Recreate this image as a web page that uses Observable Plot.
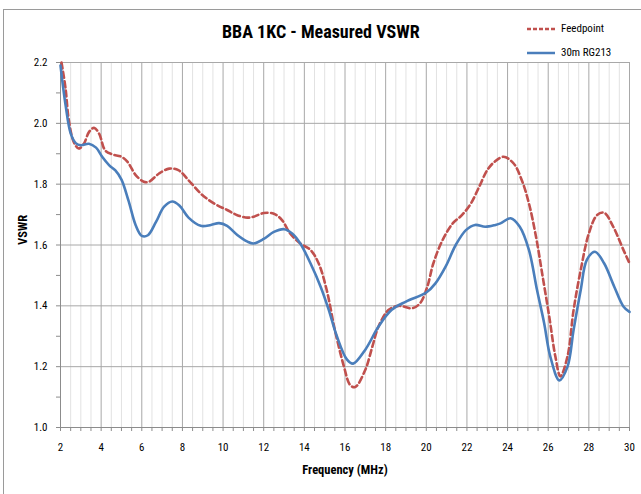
<!DOCTYPE html>
<html><head><meta charset="utf-8">
<script src="https://cdn.jsdelivr.net/npm/d3@7"></script>
<script src="https://cdn.jsdelivr.net/npm/@observablehq/plot@0.6"></script>
<style>
body{margin:0;background:#fff;}
#wrap{position:relative;width:641px;height:494px;overflow:hidden;font-family:"Liberation Sans Narrow","Roboto Condensed","Arial Narrow",sans-serif;}
#border{position:absolute;left:3px;top:9px;width:660px;height:520px;border-left:1px solid #9a9a9a;border-top:1px solid #9a9a9a;}
#title{position:absolute;left:222px;top:21px;font-size:18px;font-weight:bold;color:#000;white-space:nowrap;}
.leg{position:absolute;left:527px;font-size:11px;color:#000;white-space:nowrap;display:flex;align-items:center;}
.leg svg{margin-right:6px;}
#chart{position:absolute;left:0;top:0;}
</style></head>
<body><div id="wrap"><div id="chart"></div><div id="border"></div><div id="title"></div><div id="leg1" class="leg"></div><div id="leg2" class="leg"></div></div>
<script>
const chartTitle = "BBA 1KC - Measured VSWR";
const seriesNames = ["Feedpoint", "30m RG213"];
const seriesColors = ["#C0504D", "#4A7EBB"];
const xLabel = "Frequency (MHz)";
const yLabel = "VSWR";
const xTicks = [2,4,6,8,10,12,14,16,18,20,22,24,26,28,30];
const yTicks = [1.0,1.2,1.4,1.6,1.8,2.0,2.2];

// Feedpoint (dashed red)
const feedF = [2.05,2.25,2.4,2.65,2.9,3.15,3.4,3.65,3.9,4.2,4.55,5.0,5.3,5.7,6.1,6.35,6.85,7.35,7.8,8.3,8.95,9.55,10.2,10.7,11.2,11.5,12.0,12.5,12.9,13.3,13.8,14.3,14.7,15.1,15.5,15.95,16.25,16.5,17.0,17.35,17.65,18.15,18.65,19.3,19.7,20.05,20.35,20.8,21.3,21.75,22.2,22.6,23.0,23.35,23.8,24.3,24.7,25.05,25.4,25.7,26.05,26.35,26.6,26.95,27.25,27.6,28.0,28.4,28.75,29.2,29.7,30.0];
const feedV = [2.20,2.114,2.015,1.939,1.917,1.933,1.971,1.985,1.966,1.911,1.898,1.89,1.873,1.83,1.808,1.808,1.835,1.851,1.846,1.813,1.766,1.737,1.715,1.698,1.69,1.693,1.705,1.703,1.682,1.638,1.605,1.584,1.54,1.452,1.321,1.20,1.14,1.133,1.19,1.267,1.332,1.387,1.40,1.392,1.409,1.463,1.54,1.616,1.671,1.698,1.737,1.791,1.846,1.873,1.89,1.868,1.813,1.737,1.627,1.507,1.365,1.234,1.168,1.234,1.387,1.518,1.638,1.698,1.706,1.66,1.584,1.54];

// 30m RG213 (solid blue)
const coaxF = [2.0,2.25,2.5,2.75,3.0,3.4,3.75,4.05,4.4,4.7,5.0,5.35,5.7,6.0,6.3,6.7,7.1,7.5,7.85,8.3,8.9,9.4,9.8,10.2,10.7,11.2,11.5,12.0,12.5,13.0,13.4,13.8,14.3,14.8,15.2,15.6,16.1,16.4,17.0,17.65,18.3,19.0,20.0,20.45,20.95,21.45,21.95,22.4,22.9,23.4,23.65,24.15,24.6,25.05,25.45,25.8,26.1,26.55,26.95,27.25,27.6,27.9,28.3,28.75,29.25,29.7,30.0];
const coaxV = [2.19,2.06,1.967,1.935,1.928,1.933,1.92,1.89,1.862,1.845,1.815,1.745,1.665,1.63,1.632,1.676,1.726,1.743,1.73,1.69,1.663,1.666,1.672,1.663,1.633,1.611,1.605,1.62,1.643,1.652,1.638,1.605,1.54,1.463,1.387,1.30,1.223,1.21,1.256,1.332,1.387,1.414,1.444,1.474,1.529,1.60,1.649,1.666,1.66,1.666,1.671,1.688,1.66,1.584,1.452,1.343,1.234,1.155,1.20,1.321,1.452,1.551,1.578,1.54,1.463,1.398,1.38];

const feed = feedF.map((f, i) => ({f, v: feedV[i]}));
const coax = coaxF.map((f, i) => ({f, v: coaxV[i]}));
const minorX = d3.range(2, 30.01, 0.5).filter(d => !xTicks.includes(d));
const minorY = d3.range(1.1, 2.2, 0.2).map(d => +d.toFixed(1));
const font = '"Liberation Sans Narrow","Roboto Condensed","Arial Narrow",sans-serif';

const chart = Plot.plot({
  width: 641, height: 494,
  marginLeft: 60, marginRight: 12, marginTop: 62, marginBottom: 67,
  style: {fontFamily: font, fontSize: "11px", color: "#000", background: "transparent", overflow: "visible"},
  x: {domain: [2, 30]},
  y: {domain: [1.0, 2.2]},
  marks: [
    Plot.ruleX(minorX, {stroke: "#e2e2e2", strokeWidth: 1}),
    Plot.ruleX(xTicks, {stroke: "#a8a8a8", strokeWidth: 1}),
    Plot.ruleY(yTicks, {stroke: "#a8a8a8", strokeWidth: 1}),
    Plot.ruleX([2], {stroke: "#8c8c8c"}),
    Plot.ruleY([1.0], {stroke: "#8c8c8c"}),
    Plot.axisY({ticks: yTicks, tickSize: 4, tickPadding: 9, tickFormat: d => d.toFixed(1), label: null, stroke: "#8c8c8c"}),
    Plot.axisY({ticks: minorY, tickSize: 4, tickFormat: () => "", label: null, stroke: "#8c8c8c"}),
    Plot.axisX({ticks: xTicks, tickSize: 4, tickPadding: 12, tickFormat: d => String(d), label: null, stroke: "#8c8c8c"}),
    Plot.axisX({ticks: minorX, tickSize: 4, tickFormat: () => "", label: null, stroke: "#8c8c8c"}),
    Plot.line(feed, {x: "f", y: "v", stroke: seriesColors[0], strokeWidth: 2.6, strokeDasharray: "6,3.5", curve: "catmull-rom"}),
    Plot.line(coax, {x: "f", y: "v", stroke: seriesColors[1], strokeWidth: 2.6, curve: "catmull-rom"}),
    Plot.text([xLabel], {frameAnchor: "bottom", dy: 46, fontWeight: "bold", fontSize: 12.5}),
    Plot.text([yLabel], {frameAnchor: "left", dx: -38, rotate: -90, fontWeight: "bold", fontSize: 12.5})
  ]
});
document.getElementById("chart").appendChild(chart);
document.getElementById("title").textContent = chartTitle;

function legend(id, i, top, dash) {
  const el = document.getElementById(id);
  el.style.top = top + "px";
  el.innerHTML = `<svg width="28" height="6"><line x1="0" y1="3" x2="28" y2="3" stroke="${seriesColors[i]}" stroke-width="2.5" ${dash ? 'stroke-dasharray="4,2"' : ''}/></svg><span></span>`;
  el.querySelector("span").textContent = seriesNames[i];
}
legend("leg1", 0, 22, true);
legend("leg2", 1, 46, false);
</script>
</body></html>
